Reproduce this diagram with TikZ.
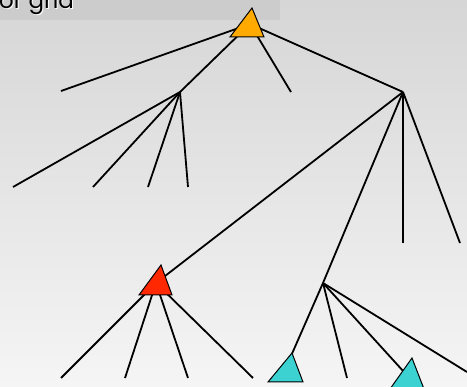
\documentclass[tikz,border=0pt]{standalone}
\usepackage{fontspec}
\setmainfont{Poppins}
\begin{document}
\begin{tikzpicture}[x=1pt,y=-1pt,
  edge/.style={draw=black,line width=1.8pt},
  tri/.style={draw=black,line width=1pt,line join=miter},
  hdr/.style={inner sep=0pt,font=\fontsize{23}{26}\selectfont}]
\useasboundingbox (0,0) rectangle (467,387);
\clip (0,0) rectangle (467,387);
\shade[top color={rgb,255:red,214;green,214;blue,214},bottom color={rgb,255:red,245;green,245;blue,245}] (0,0) rectangle (467,387);
\fill[fill={rgb,255:red,204;green,204;blue,204}] (0,0) rectangle (280,20);
\node[hdr,anchor=base west,text=white] (titleshadow) at (0,10) {or grid};
\node[hdr,anchor=base west,text=black] (title) at (-1,9) {or grid};
% junctions
\coordinate (O) at (250,24);
\coordinate (A) at (180,92);
\coordinate (B) at (403,92);
\coordinate (R) at (156,283);
\coordinate (C) at (323,283);
\coordinate (C1) at (284,372);
\coordinate (C2) at (404,372);
% leaves
\coordinate (l1) at (61,91);
\coordinate (l2) at (291,92);
\coordinate (a1) at (13,187);
\coordinate (a2) at (93,187);
\coordinate (a3) at (148,187);
\coordinate (a4) at (188,187);
\coordinate (b1) at (403,243);
\coordinate (b2) at (460,243);
\coordinate (r1) at (61,378);
\coordinate (r2) at (125,378);
\coordinate (r3) at (188,378);
\coordinate (r4) at (253,378);
\coordinate (c1) at (347,378);
\coordinate (c2) at (467,372);
% edges
\draw[edge] (O) -- (l1);
\draw[edge] (O) -- (A);
\draw[edge] (O) -- (l2);
\draw[edge] (O) -- (B);
\foreach \t in {a1,a2,a3,a4} \draw[edge] (A) -- (\t);
\draw[edge] (B) -- (R);
\draw[edge] (B) -- (C);
\draw[edge] (B) -- (b1);
\draw[edge] (B) -- (b2);
\foreach \t in {r1,r2,r3,r4} \draw[edge] (R) -- (\t);
\draw[edge] (C) -- (C1);
\draw[edge] (C) -- (c1);
\draw[edge] (C) -- (C2);
\draw[edge] (C) -- (c2);
% triangles
\filldraw[tri,fill={rgb,255:red,255;green,170;blue,0}] (252,8) -- (264,37) -- (230,37) -- cycle;
\filldraw[tri,fill={rgb,255:red,255;green,40;blue,0}] (161,265) -- (172,295) -- (139,295) -- cycle;
\filldraw[tri,fill={rgb,255:red,60;green,210;blue,210}] (292,353) -- (303,382) -- (268,382) -- cycle;
\filldraw[tri,fill={rgb,255:red,60;green,210;blue,210}] (412,358) -- (424,389) -- (390,389) -- cycle;
\end{tikzpicture}
\end{document}
